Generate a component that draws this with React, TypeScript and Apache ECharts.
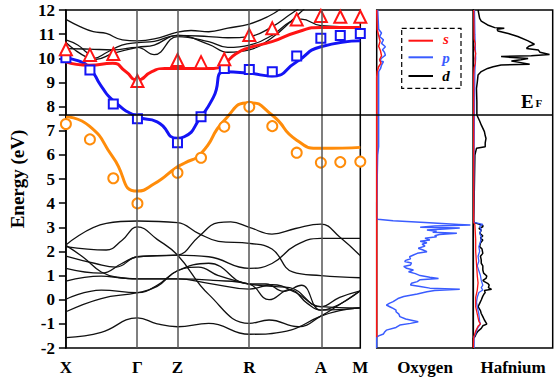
import React, { useEffect, useRef } from "react";
import * as echarts from "echarts";

const FONT = "'Liberation Serif', 'Times New Roman', serif";

// k-path
const kLabels = ["X", "Γ", "Z", "R", "A", "M"];
const kPositions = [0, 0.243, 0.379, 0.623, 0.866, 1];
const fermiLevel = 7.65;

// marker points (k, energies)
const markerK = [0, 0.0816, 0.161, 0.243, 0.379, 0.459, 0.538, 0.623, 0.701, 0.784, 0.866, 0.932, 1];
const sTriangles = [10.37, 10.14, 10.18, 9.06, 9.93, 9.84, 9.96, 10.96, 11.24, 11.61, 11.75, 11.72, 11.72];
const pSquares = [10.02, 9.51, 8.11, 7.5, 6.5, 7.58, 9.58, 9.54, 9.44, 10.09, 10.83, 10.94, 11.03];
const oCircles = [7.28, 6.64, 5.03, 3.99, 5.26, 5.88, 7.17, 7.99, 7.19, 6.09, 5.68, 5.7, 5.72];

// fitted curves [k, E]
const sFit = [[0, 9.85], [0.08, 9.71], [0.159, 9.79], [0.203, 9.45], [0.243, 9.1], [0.292, 9.45], [0.336, 9.58], [0.469, 9.58], [0.502, 9.58], [0.539, 9.79], [0.579, 10.2], [0.623, 10.44], [0.7, 10.69], [0.789, 11.1], [0.866, 11.28], [1, 11.28]];
const pFit = [[0, 10.0], [0.04, 9.9], [0.08, 9.6], [0.12, 8.85], [0.159, 8.27], [0.243, 7.58], [0.31, 7.37], [0.379, 6.69], [0.402, 6.75], [0.459, 7.58], [0.502, 8.41], [0.539, 9.44], [0.623, 9.38], [0.7, 9.27], [0.784, 9.86], [0.866, 10.48], [1, 10.73]];
const oFit = [[0, 7.58], [0.08, 7.19], [0.159, 5.92], [0.243, 4.5], [0.3, 4.8], [0.379, 5.51], [0.402, 5.65], [0.459, 6.06], [0.539, 7.44], [0.623, 8.16], [0.7, 7.65], [0.784, 6.61], [0.866, 6.27], [1, 6.31]];

// conduction bands (black, upper)
const cb1 = [[0, 11.61], [0.048, 11.31], [0.093, 11.1], [0.137, 11.03], [0.192, 10.76], [0.243, 10.72], [0.3, 10.8], [0.379, 11.08], [0.425, 11.15], [0.485, 11.1], [0.55, 11.25], [0.623, 11.42], [0.69, 11.75], [0.73, 12.05]];
const cb2 = [[0, 10.76], [0.04, 10.55], [0.07, 10.25], [0.095, 10.0], [0.14, 10.25], [0.19, 10.55], [0.243, 10.65], [0.3, 10.7], [0.379, 10.95], [0.485, 10.9], [0.55, 10.85], [0.623, 10.9], [0.7, 11.3], [0.76, 11.8], [0.79, 12.05]];
const cb3 = [[0, 10.4], [0.08, 10.38], [0.16, 10.35], [0.243, 10.45], [0.3, 10.15], [0.379, 10.9], [0.485, 10.69], [0.55, 10.45], [0.623, 10.55], [0.7, 10.95], [0.76, 11.5], [0.8, 11.62], [0.866, 11.35], [1, 11.3]];
const cb4 = [[0, 10.65], [0.03, 10.35], [0.07, 10.05], [0.1, 9.95], [0.16, 10.2], [0.243, 10.45], [0.3, 10.55], [0.379, 10.95], [0.485, 10.58], [0.55, 10.25], [0.623, 10.35], [0.7, 10.85], [0.77, 11.6], [0.81, 12.05]];

// valence bands (black, lower)
const vb1 = [[0, 2.27], [0.137, 3.16], [0.243, 3.26], [0.379, 3.19], [0.45, 2.75], [0.518, 2.42], [0.623, 2.33], [0.7, 2.1], [0.77, 1.15], [0.866, 1.0], [1, 0.91]];
const vb2 = [[0, 2.2], [0.137, 2.06], [0.19, 2.45], [0.243, 3.02], [0.31, 2.5], [0.379, 1.85], [0.485, 0.22], [0.623, -0.98], [0.69, -0.84], [0.79, -1.12], [0.866, -0.68], [0.93, -0.2], [1, 0.37]];
const vb3 = [[0, 1.81], [0.1, 1.5], [0.17, 1.35], [0.243, 1.78], [0.379, 1.85], [0.485, 1.78], [0.623, 1.3], [0.7, 1.5], [0.78, 2.25], [0.866, 2.54], [1, 2.54]];
const vb4 = [[0, 1.3], [0.12, 1.1], [0.19, 1.5], [0.243, 1.78], [0.31, 1.82], [0.379, 1.85], [0.45, 2.6], [0.518, 3.19], [0.56, 3.22], [0.623, 3.0], [0.7, 2.72], [0.78, 2.95], [0.866, 3.13], [0.93, 2.6], [1, 1.82]];
const vb5 = [[0, 2.25], [0.06, 1.75], [0.12, 1.15], [0.18, 0.92], [0.243, 0.86], [0.379, 0.86], [0.5, 0.8], [0.623, 0.65], [0.69, 0.0], [0.76, 0.42], [0.82, -0.15], [0.866, -0.43], [1, -0.34]];
const vb6 = [[0, 0.77], [0.12, 0.98], [0.19, 0.9], [0.243, 0.86], [0.379, 0.86], [0.485, 0.68], [0.623, 0.44], [0.7, 0.62], [0.78, 0.3], [0.866, -0.29], [1, -0.34]];
const vb7 = [[0, 0.02], [0.12, 0.4], [0.243, 0.29], [0.31, 0.6], [0.379, 1.2], [0.485, 1.51], [0.623, 0.65], [0.68, 0.65], [0.74, 0.35], [0.8, 0.6], [0.866, -0.43], [1, 0.37]];
const vb8 = [[0, -0.5], [0.12, 0.05], [0.243, 0.29], [0.31, 0.55], [0.379, 1.2], [0.45, 1.35], [0.518, 1.0], [0.623, 0.65], [0.7, 0.55], [0.76, 0.5], [0.866, -0.29], [0.93, 0.1], [1, 0.37]];
const vb9 = [[0, -1.57], [0.12, -1.35], [0.243, -0.75], [0.31, -1.0], [0.379, -1.12], [0.485, -0.98], [0.623, -1.43], [0.75, -1.3], [0.866, -0.68], [0.93, -0.45], [1, -0.34]];

// DOS [E, dos]
const oxygenP = [[12, 0.01], [11.6, 0.015], [11.2, 0.02], [11.05, 0.05], [10.9, 0.03], [10.76, 0.07], [10.62, 0.05], [10.48, 0.09], [10.35, 0.06], [10.25, 0.08], [10.13, 0.09], [10.0, 0.05], [9.9, 0.03], [9.86, 0.07], [9.72, 0.05], [9.58, 0.04], [9.45, 0.02], [9.0, 0.02], [8.27, 0.02], [7.65, 0.02], [7.0, 0.02], [6.34, 0.02], [6.0, 0.01], [5.0, 0.005], [4.0, 0], [3.4, 0], [3.33, 0.01], [3.27, 0.17], [3.2, 0.5], [3.12, 0.85], [3.09, 0.97], [3.05, 0.6], [3.0, 0.45], [2.97, 0.86], [2.93, 0.7], [2.89, 0.52], [2.84, 0.62], [2.79, 0.58], [2.75, 0.83], [2.7, 0.65], [2.65, 0.6], [2.61, 0.62], [2.55, 0.5], [2.47, 0.55], [2.42, 0.45], [2.36, 0.52], [2.3, 0.47], [2.22, 0.5], [2.13, 0.43], [2.06, 0.48], [1.99, 0.52], [1.92, 0.42], [1.85, 0.38], [1.78, 0.34], [1.7, 0.35], [1.63, 0.3], [1.58, 0.29], [1.52, 0.36], [1.44, 0.35], [1.38, 0.28], [1.3, 0.31], [1.23, 0.38], [1.16, 0.33], [1.08, 0.4], [1.0, 0.45], [0.93, 0.55], [0.88, 0.64], [0.83, 0.45], [0.75, 0.42], [0.68, 0.36], [0.61, 0.35], [0.55, 0.45], [0.48, 0.55], [0.43, 0.86], [0.38, 0.6], [0.33, 0.52], [0.24, 0.42], [0.13, 0.28], [0.05, 0.22], [-0.08, 0.17], [-0.15, 0.13], [-0.22, 0.1], [-0.3, 0.14], [-0.36, 0.17], [-0.43, 0.2], [-0.5, 0.2], [-0.6, 0.23], [-0.7, 0.24], [-0.8, 0.3], [-0.91, 0.43], [-0.98, 0.35], [-1.05, 0.24], [-1.15, 0.2], [-1.26, 0.1], [-1.35, 0.08], [-1.42, 0.07], [-1.5, 0.02], [-1.55, 0], [-2, 0]];
const oxygenS = [[12, 0], [11.2, 0.005], [10.95, 0.02], [10.7, 0.035], [10.5, 0.02], [10.3, 0.04], [10.1, 0.05], [9.95, 0.03], [9.8, 0.045], [9.65, 0.02], [9.45, 0.005], [9.2, 0], [-1.55, 0]];
const hafniumD = [[12.0, 0.06], [11.65, 0.08], [11.54, 0.1], [11.38, 0.18], [11.27, 0.27], [11.24, 0.39], [11.2, 0.3], [11.13, 0.31], [11.03, 0.44], [10.9, 0.56], [10.72, 0.69], [10.58, 0.77], [10.5, 0.7], [10.41, 0.67], [10.34, 0.82], [10.25, 0.84], [10.16, 0.96], [10.11, 0.73], [10.07, 0.35], [10.03, 0.5], [9.99, 0.69], [9.94, 0.6], [9.89, 0.48], [9.82, 0.6], [9.75, 0.71], [9.72, 0.35], [9.65, 0.25], [9.58, 0.18], [9.45, 0.1], [9.31, 0.06], [9.0, 0.05], [8.75, 0.04], [8.2, 0.045], [7.65, 0.045], [7.4, 0.08], [7.24, 0.1], [6.96, 0.14], [6.8, 0.15], [6.68, 0.16], [6.5, 0.15], [6.34, 0.15], [6.27, 0.04], [5.99, 0.02], [5.0, 0.015], [4.0, 0.01], [3.3, 0.005], [3.2, 0.01], [3.14, 0.06], [3.08, 0.12], [3.02, 0.12], [2.95, 0.07], [2.88, 0.1], [2.75, 0.08], [2.65, 0.12], [2.55, 0.09], [2.47, 0.12], [2.35, 0.09], [2.2, 0.08], [2.1, 0.11], [1.92, 0.12], [1.8, 0.09], [1.65, 0.1], [1.51, 0.1], [1.4, 0.12], [1.23, 0.12], [1.1, 0.13], [0.98, 0.17], [0.88, 0.16], [0.8, 0.12], [0.75, 0.14], [0.68, 0.18], [0.61, 0.2], [0.5, 0.19], [0.43, 0.23], [0.38, 0.14], [0.3, 0.15], [0.26, 0.14], [0.15, 0.12], [-0.01, 0.1], [-0.15, 0.08], [-0.29, 0.06], [-0.45, 0.09], [-0.57, 0.1], [-0.7, 0.12], [-0.84, 0.14], [-0.95, 0.16], [-1.01, 0.17], [-1.08, 0.12], [-1.19, 0.1], [-1.3, 0.06], [-1.39, 0.04], [-1.53, 0.02], [-1.6, 0], [-2, 0]];
const hafniumP = [[12, 0.015], [11, 0.02], [10.5, 0.025], [10, 0.03], [9.5, 0.02], [8, 0.015], [6, 0.01], [3.3, 0.005], [3.2, 0.01], [3.12, 0.12], [3.05, 0.08], [2.9, 0.1], [2.75, 0.08], [2.6, 0.1], [2.4, 0.09], [2.2, 0.07], [2.0, 0.08], [1.8, 0.06], [1.6, 0.07], [1.4, 0.05], [1.2, 0.07], [1.0, 0.09], [0.8, 0.1], [0.6, 0.12], [0.5, 0.1], [0.4, 0.12], [0.3, 0.07], [0.1, 0.05], [-0.1, 0.04], [-0.3, 0.05], [-0.6, 0.07], [-0.9, 0.08], [-1.0, 0.09], [-1.2, 0.05], [-1.4, 0.03], [-1.55, 0.01], [-2, 0.01]];
const hafniumS = [[12, 0.005], [10.8, 0.01], [10.6, 0.025], [10.4, 0.015], [10.2, 0.03], [10.0, 0.02], [9.8, 0.025], [9.6, 0.01], [9.3, 0.005], [3.2, 0.005], [3.1, 0.02], [2.5, 0.03], [2.0, 0.03], [1.5, 0.04], [1.0, 0.05], [0.7, 0.06], [0.4, 0.05], [0.1, 0.03], [-0.3, 0.03], [-0.6, 0.05], [-0.9, 0.07], [-1.0, 0.09], [-1.1, 0.06], [-1.3, 0.03], [-1.55, 0.005], [-2, 0]];

const RED = "#ff1414";
const BLUE = "#1414f5";
const ORANGE = "#ff8c0a";
const DOSBLUE = "#3a5cff";

export default function App() {
  const ref = useRef<HTMLDivElement>(null);
  useEffect(() => {
    document.body.style.margin = "0";
    const chart = echarts.init(ref.current!, null, { renderer: "svg" });
    const bandSeries = [cb1, cb2, cb3, cb4, vb1, vb2, vb3, vb4, vb5, vb6, vb7, vb8, vb9].map((d, i) => ({
      type: "line",
      xAxisIndex: 0,
      yAxisIndex: 0,
      data: d,
      showSymbol: false,
      smooth: 0.45,
      lineStyle: { color: "#111", width: 1.3 },
      z: 2,
      markLine: i === 0 ? {
        silent: true,
        symbol: ["none", "none"],
        label: { show: false },
        lineStyle: { color: "#555", width: 1.5, type: "solid" },
        data: kPositions.slice(1, 5).map((k) => ({ xAxis: k })),
      } : undefined,
    }));
    const fit = (d: number[][], c: string) => ({
      type: "line", xAxisIndex: 0, yAxisIndex: 0, data: d, showSymbol: false,
      smooth: 0.6, lineStyle: { color: c, width: 3 }, z: 3,
    });
    const marks = (vals: number[], sym: string, size: number, c: string) => ({
      type: "scatter", xAxisIndex: 0, yAxisIndex: 0, clip: false,
      data: markerK.map((k, i) => [k, vals[i]]),
      symbol: sym, symbolSize: size, z: 4,
      itemStyle: { color: "#fff", borderColor: c, borderWidth: 2, opacity: 1 },
    });
    const dos = (d: number[][], xi: number, c: string, w: number) => ({
      type: "line", xAxisIndex: xi, yAxisIndex: xi, data: d.map(([e, v]) => [v, e]),
      showSymbol: false, lineStyle: { color: c, width: w }, z: 3,
    });
    const axisFont = { fontFamily: FONT, fontWeight: "bold", color: "#000" };
    chart.setOption({
      animation: false,
      grid: [
        { left: 58.7, top: 10, width: 301.6, height: 338, show: true, borderColor: "#000", borderWidth: 1.5 },
        { left: 376.7, top: 10, width: 96.6, height: 338, show: true, borderColor: "#000", borderWidth: 1.5 },
        { left: 473.3, top: 10, width: 79.4, height: 338, show: true, borderColor: "#000", borderWidth: 1.5 },
      ],
      xAxis: [
        {
          gridIndex: 0, type: "value", min: 0, max: 1,
          axisLine: { show: false }, axisTick: { show: false }, splitLine: { show: false },
          axisLabel: {
            customValues: kPositions, margin: 11, fontSize: 17, ...axisFont,
            formatter: (v: number) => {
              const i = kPositions.findIndex((k) => Math.abs(k - v) < 1e-6);
              return i >= 0 ? kLabels[i] : "";
            },
          },
        },
        {
          gridIndex: 1, type: "value", min: 0, max: 1, name: "Oxygen", nameLocation: "middle", nameGap: 11,
          nameTextStyle: { fontSize: 17, ...axisFont, verticalAlign: "top" },
          axisLine: { show: false }, axisTick: { show: false }, splitLine: { show: false }, axisLabel: { show: false },
        },
        {
          gridIndex: 2, type: "value", min: 0, max: 1, name: "Hafnium", nameLocation: "middle", nameGap: 11,
          nameTextStyle: { fontSize: 17, ...axisFont, verticalAlign: "top" },
          axisLine: { show: false }, axisTick: { show: false }, splitLine: { show: false }, axisLabel: { show: false },
        },
      ],
      yAxis: [
        {
          gridIndex: 0, type: "value", min: -2, max: 12, interval: 1,
          axisLine: { show: true, lineStyle: { color: "#000", width: 1.5 } },
          axisTick: { show: true, inside: false, length: 7, lineStyle: { color: "#000", width: 1.5 } },
          splitLine: { show: false },
          axisLabel: { margin: 11, fontSize: 17, ...axisFont },
          name: "Energy (eV)", nameLocation: "middle", nameGap: 38,
          nameTextStyle: { fontSize: 19, ...axisFont },
        },
        { gridIndex: 1, type: "value", min: -2, max: 12, show: false },
        { gridIndex: 2, type: "value", min: -2, max: 12, show: false },
      ],
      series: [
        ...bandSeries,
        fit(oFit, ORANGE),
        fit(pFit, BLUE),
        fit(sFit, RED),
        marks(oCircles, "circle", 10, ORANGE),
        marks(pSquares, "rect", 9, BLUE),
        marks(sTriangles, "triangle", 12, RED),
        dos(oxygenP, 1, DOSBLUE, 1.5),
        dos(oxygenS, 1, RED, 1.5),
        dos(hafniumD, 2, "#000", 1.5),
        dos(hafniumP, 2, DOSBLUE, 1.3),
        dos(hafniumS, 2, RED, 1.3),
      ],
    });
    const yF = chart.convertToPixel({ yAxisIndex: 0 }, fermiLevel) as number;
    const xL = (chart.convertToPixel({ xAxisIndex: 0 }, 0) as number) - 7;
    const xR = chart.convertToPixel({ xAxisIndex: 2 }, 1) as number;
    const legendFont = `italic bold 15px ${FONT}`;
    chart.setOption({
      graphic: [
        { type: "line", z: 10, shape: { x1: xL, y1: yF, x2: xR, y2: yF }, style: { stroke: "#000", lineWidth: 1.5 } },
        { type: "rect", z: 10, shape: { x: 401.7, y: 28.3, width: 59.3, height: 60 }, style: { fill: "none", stroke: "#000", lineWidth: 1.2, lineDash: [5, 3] } },
        { type: "line", z: 10, shape: { x1: 408.5, y1: 40.7, x2: 433, y2: 40.7 }, style: { stroke: RED, lineWidth: 2 } },
        { type: "line", z: 10, shape: { x1: 408.5, y1: 57.3, x2: 433, y2: 57.3 }, style: { stroke: DOSBLUE, lineWidth: 2 } },
        { type: "line", z: 10, shape: { x1: 408.5, y1: 76, x2: 433, y2: 76 }, style: { stroke: "#000", lineWidth: 2 } },
        { type: "text", z: 10, x: 446, y: 39, style: { text: "s", fill: RED, font: legendFont, textAlign: "center", textVerticalAlign: "middle" } },
        { type: "text", z: 10, x: 446, y: 57.5, style: { text: "p", fill: DOSBLUE, font: legendFont, textAlign: "center", textVerticalAlign: "middle" } },
        { type: "text", z: 10, x: 446, y: 75.5, style: { text: "d", fill: "#000", font: legendFont, textAlign: "center", textVerticalAlign: "middle" } },
        { type: "text", z: 10, x: 521, y: 101, style: { text: "E", fill: "#000", font: `bold 19px ${FONT}`, textAlign: "left", textVerticalAlign: "middle" } },
        { type: "text", z: 10, x: 535.5, y: 103, style: { text: "F", fill: "#000", font: `bold 11px ${FONT}`, textAlign: "left", textVerticalAlign: "middle" } },
      ],
    });
    return () => chart.dispose();
  }, []);
  return <div ref={ref} style={{ width: 554, height: 381 }} />;
}
